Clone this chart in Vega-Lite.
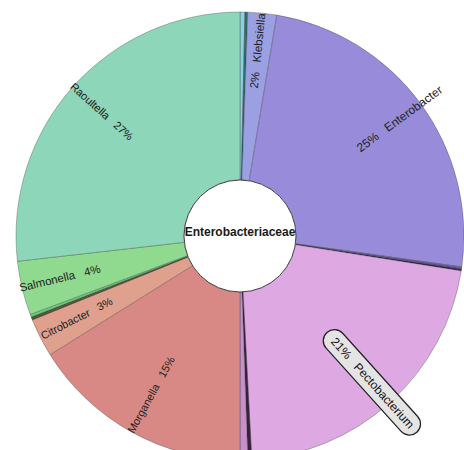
{
  "$schema": "https://vega.github.io/schema/vega-lite/v6.json",
  "width": 450,
  "height": 434,
  "padding": {"left": 15, "top": 19, "right": 0, "bottom": 0},
  "autosize": {"type": "none"},
  "background": "white",
  "config": {"view": {"stroke": null}, "text": {"font": "Liberation Sans"}},
  "datasets": {
    "genus": [
      {"i": 1, "name": "s1", "share": 0.35, "label": ""},
      {"i": 2, "name": "s2", "share": 0.2, "label": ""},
      {"i": 3, "name": "Klebsiella", "share": 2.08, "label": "2%\u00a0\u00a0\u00a0Klebsiella"},
      {"i": 4, "name": "Enterobacter", "share": 24.58, "label": "25%\u00a0\u00a0\u00a0Enterobacter"},
      {"i": 5, "name": "s3", "share": 0.14, "label": ""},
      {"i": 6, "name": "s4", "share": 0.14, "label": ""},
      {"i": 7, "name": "Pectobacterium", "share": 21.67, "label": "21%\u00a0\u00a0\u00a0Pectobacterium"},
      {"i": 8, "name": "s5", "share": 0.28, "label": ""},
      {"i": 9, "name": "s6", "share": 0.56, "label": ""},
      {"i": 10, "name": "Morganella", "share": 16.11, "label": "Morganella\u00a0\u00a0\u00a015%"},
      {"i": 11, "name": "Citrobacter", "share": 2.78, "label": "Citrobacter\u00a0\u00a0\u00a03%"},
      {"i": 12, "name": "s7", "share": 0.11, "label": ""},
      {"i": 13, "name": "s8", "share": 0.11, "label": ""},
      {"i": 14, "name": "s9", "share": 0.2, "label": ""},
      {"i": 15, "name": "Salmonella", "share": 3.89, "label": "Salmonella\u00a0\u00a0\u00a04%"},
      {"i": 16, "name": "Raoultella", "share": 26.8, "label": "Raoultella\u00a0\u00a0\u00a027%"}
    ],
    "family": [{"title": "Enterobacteriaceae"}]
  },
  "layer": [
    {
      "data": {"name": "genus"},
      "encoding": {
        "theta": {"field": "share", "type": "quantitative", "stack": true},
        "order": {"field": "i", "type": "quantitative"},
        "detail": {"field": "name", "type": "nominal"}
      },
      "layer": [
        {
          "mark": {"type": "arc", "radius": 224, "radius2": 56, "stroke": "#2a2a2a", "strokeWidth": 0.6, "strokeOpacity": 0.5},
          "encoding": {
            "color": {
              "field": "name",
              "type": "nominal",
              "legend": null,
              "scale": {
                "domain": ["s1", "s2", "Klebsiella", "Enterobacter", "s3", "s4", "Pectobacterium", "s5", "s6", "Morganella", "Citrobacter", "s7", "s8", "s9", "Salmonella", "Raoultella"],
                "range": ["#8cd2dc", "#2f6f70", "#9aa0e2", "#988bda", "#6f5fb0", "#3b2a50", "#dea9e3", "#3a2040", "#c890c8", "#d98985", "#dfa08e", "#6b4a2a", "#2e6a3a", "#70c87a", "#90da90", "#8dd6b9"]
              }
            }
          }
        },
        {
          "mark": {"type": "arc", "radius": 253, "radius2": 141, "padAngle": 3, "fill": "transparent", "stroke": "#222222", "strokeWidth": 23.5, "strokeJoin": "round", "strokeCap": "round"},
          "encoding": {"opacity": {"condition": {"test": "datum.name === 'Pectobacterium'", "value": 1}, "value": 0}}
        },
        {
          "mark": {"type": "arc", "radius": 253, "radius2": 141, "padAngle": 3, "fill": "transparent", "stroke": "#ffffff", "strokeOpacity": 0.88, "strokeWidth": 21, "strokeJoin": "round", "strokeCap": "round"},
          "encoding": {"opacity": {"condition": {"test": "datum.name === 'Pectobacterium'", "value": 1}, "value": 0}}
        },
        {
          "mark": {"type": "text", "radius": 186, "angle": 275.75, "fontSize": 11.5, "color": "#222222", "align": "center", "baseline": "middle"},
          "encoding": {"text": {"condition": {"test": "datum.name === 'Klebsiella'", "field": "label"}, "value": ""}}
        },
        {
          "mark": {"type": "text", "radius": 198, "angle": 323.75, "fontSize": 12, "color": "#222222", "align": "center", "baseline": "middle"},
          "encoding": {"text": {"condition": {"test": "datum.name === 'Enterobacter'", "field": "label"}, "value": ""}}
        },
        {
          "mark": {"type": "text", "radius": 198, "angle": 48, "fontSize": 12, "color": "#111111", "align": "center", "baseline": "middle"},
          "encoding": {"text": {"condition": {"test": "datum.name === 'Pectobacterium'", "field": "label"}, "value": ""}}
        },
        {
          "mark": {"type": "text", "radius": 182, "angle": 299, "fontSize": 11, "color": "#222222", "align": "center", "baseline": "middle"},
          "encoding": {"text": {"condition": {"test": "datum.name === 'Morganella'", "field": "label"}, "value": ""}}
        },
        {
          "mark": {"type": "text", "radius": 183, "angle": 333, "fontSize": 11, "color": "#222222", "align": "center", "baseline": "middle"},
          "encoding": {"text": {"condition": {"test": "datum.name === 'Citrobacter'", "field": "label"}, "value": ""}}
        },
        {
          "mark": {"type": "text", "radius": 185, "angle": 346.5, "fontSize": 11.5, "color": "#222222", "align": "center", "baseline": "middle"},
          "encoding": {"text": {"condition": {"test": "datum.name === 'Salmonella'", "field": "label"}, "value": ""}}
        },
        {
          "mark": {"type": "text", "radius": 186, "angle": 41.75, "fontSize": 11, "color": "#222222", "align": "center", "baseline": "middle"},
          "encoding": {"text": {"condition": {"test": "datum.name === 'Raoultella'", "field": "label"}, "value": ""}}
        }
      ]
    },
    {
      "data": {"name": "family"},
      "mark": {"type": "arc", "radius": 56, "radius2": 0, "fill": "white", "stroke": "#444444", "strokeWidth": 1},
      "encoding": {}
    },
    {
      "data": {"name": "family"},
      "mark": {"type": "text", "fontSize": 12, "fontWeight": "bold", "color": "#1a1a1a", "align": "center", "baseline": "middle", "dy": -4},
      "encoding": {"text": {"field": "title", "type": "nominal"}}
    }
  ]
}
